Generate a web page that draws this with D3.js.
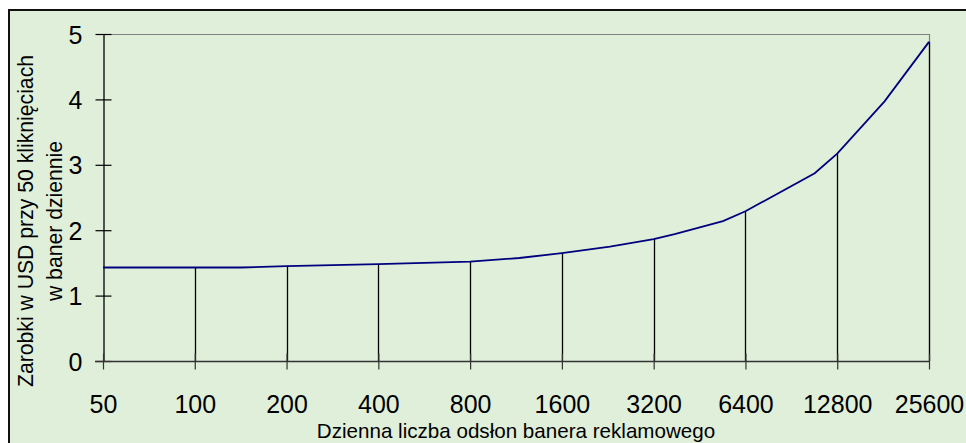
<!DOCTYPE html>
<html><head><meta charset="utf-8">
<script src="https://cdn.jsdelivr.net/npm/d3@7"></script>
<style>body{margin:0;background:#fff}svg{display:block}</style>
</head><body>
<svg id="c" width="966" height="443"></svg>
<script>
const categories = [50, 100, 200, 400, 800, 1600, 3200, 6400, 12800, 25600];
const impressions = [50, 100, 142, 200, 400, 800, 1160, 1600, 2300, 3200, 3750, 5400, 6400, 10800, 12800, 18300, 25600];
const earnings   = [1.43, 1.43, 1.43, 1.45, 1.48, 1.52, 1.575, 1.65, 1.75, 1.865, 1.94, 2.14, 2.29, 2.87, 3.17, 3.97, 4.88];
const yTicks = [0, 1, 2, 3, 4, 5];
const xTitle = "Dzienna liczba odsłon banera reklamowego";
const yTitle = ["Zarobki w USD przy 50 kliknięciach", "w baner dziennie"];

const svg = d3.select("#c");
const L = 103, R = 929, T = 34, B = 361;
const x = d3.scaleLog().base(2).domain([50, 25600]).range([L, R]);
const y = d3.scaleLinear().domain([0, 5]).range([B, T]);
const font = "'Liberation Sans', Arial, sans-serif";

// chart area
svg.append("rect").attr("x", 9).attr("y", 10).attr("width", 980).attr("height", 460)
  .attr("fill", "#E0EFDA").attr("stroke", "#111").attr("stroke-width", 2);

// plot border (top & right) gray
svg.append("line").attr("x1", L).attr("x2", R).attr("y1", T + 0.5).attr("y2", T + 0.5)
  .attr("stroke", "#808080").attr("stroke-width", 1.2);
svg.append("line").attr("x1", R + 0.5).attr("x2", R + 0.5).attr("y1", T).attr("y2", B)
  .attr("stroke", "#808080").attr("stroke-width", 1.2);

// drop lines
const pts = impressions.map((v, i) => ({ v, e: earnings[i] }));
const drops = pts.filter(p => categories.includes(p.v) && p.v !== categories[0]);
svg.append("g").selectAll("line").data(drops).join("line")
  .attr("x1", d => Math.round(x(d.v)) + 0.5).attr("x2", d => Math.round(x(d.v)) + 0.5)
  .attr("y1", d => y(d.e)).attr("y2", B)
  .attr("stroke", "#000").attr("stroke-width", 1.3);

// y axis
const ya = svg.append("g").attr("transform", `translate(${L + 0.5},0)`)
  .call(d3.axisLeft(y).tickValues(yTicks).tickFormat(d3.format("d")).tickSizeInner(8).tickSizeOuter(0).tickPadding(13));
ya.select(".domain").attr("stroke", "#000").attr("stroke-width", 1.3);
ya.selectAll(".tick line").attr("x2", 8).attr("x1", -8).attr("stroke", "#000").attr("stroke-width", 1.2);
ya.selectAll(".tick text").attr("font-family", font).attr("font-size", 25).attr("fill", "#000").attr("dy", "0.36em");

// x axis
const xa = svg.append("g").attr("transform", `translate(0,${B + 0.5})`)
  .call(d3.axisBottom(x).tickValues(categories).tickFormat(d3.format("d")).tickSizeInner(8).tickSizeOuter(0).tickPadding(0));
xa.select(".domain").attr("d", `M${L - 8},0H${R}`).attr("stroke", "#333").attr("stroke-width", 1.5);
xa.selectAll(".tick line").attr("y1", -8).attr("y2", 8).attr("stroke", "#333").attr("stroke-width", 1.2);
xa.selectAll(".tick text").attr("font-family", font).attr("font-size", 25).attr("fill", "#000")
  .attr("dy", null).attr("y", 51);

// curve
svg.append("path").datum(pts)
  .attr("d", d3.line().x(d => x(d.v)).y(d => y(d.e)))
  .attr("fill", "none").attr("stroke", "#00007F").attr("stroke-width", 1.8);

// titles
svg.append("text").attr("x", (L + R) / 2).attr("y", 437.5).attr("text-anchor", "middle")
  .attr("font-family", font).attr("font-size", 20.6).attr("fill", "#000").text(xTitle);
const yt = svg.append("text").attr("transform", "translate(0,221) rotate(-90)")
  .attr("text-anchor", "middle").attr("font-family", font).attr("font-size", 21.2).attr("fill", "#000");
yt.append("tspan").attr("x", 0).attr("y", 33).text(yTitle[0]);
yt.append("tspan").attr("x", 0).attr("y", 62).text(yTitle[1]);
</script>
</body></html>
